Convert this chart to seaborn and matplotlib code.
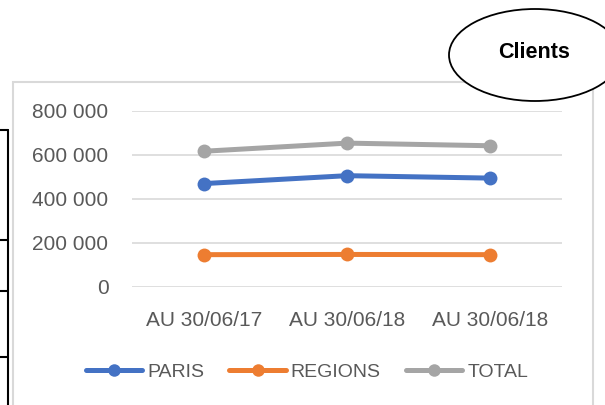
import pandas as pd
import matplotlib.pyplot as plt
import seaborn as sns
from matplotlib.patches import Ellipse, Rectangle
from matplotlib.lines import Line2D
from matplotlib.ticker import FuncFormatter

# Data
dates = ['AU 30/06/17', 'AU 30/06/18', 'AU 30/06/18']
paris = [470000, 506000, 495000]
regions = [147000, 148000, 147000]
total = [617000, 654000, 642000]
series = ['PARIS', 'REGIONS', 'TOTAL']
colors = ['#4472C4', '#ED7D31', '#A5A5A5']

# long format for seaborn
rows = []
for name, vals in zip(series, [paris, regions, total]):
    for i, v in enumerate(vals):
        rows.append({'pos': i, 'value': v, 'serie': name})
df = pd.DataFrame(rows)

sns.set_style('white')
plt.rcParams['font.family'] = ['Liberation Sans', 'DejaVu Sans']
text_col = '#595959'

W, H = 605, 405
fig = plt.figure(figsize=(6.05, 4.05), dpi=100)

def fx(px):
    return px / W

def fy(py):
    return 1 - py / H

# chart area border
fig.patches.append(Rectangle((fx(13), fy(420)), fx(593) - fx(13), fy(82) - fy(420),
                             transform=fig.transFigure, fill=False,
                             edgecolor='#D9D9D9', lw=1.5, zorder=1))

# table fragment on the left
fig.add_artist(Line2D([fx(8), fx(8)], [fy(130), fy(410)], color='black', lw=1.5,
                      transform=fig.transFigure))
for yy in [130, 240, 291, 357]:
    fig.add_artist(Line2D([0, fx(8)], [fy(yy), fy(yy)], color='black', lw=1.5,
                          transform=fig.transFigure))

ax = fig.add_axes([fx(132), fy(287), fx(562) - fx(132), fy(111) - fy(287)])
sns.lineplot(data=df, x='pos', y='value', hue='serie', palette=colors,
             marker='o', markersize=10, markeredgewidth=0, linewidth=3.6,
             legend=False, ax=ax)

ax.set_xlim(-0.5, 2.5)
ax.set_ylim(0, 800000)
ax.set_yticks([0, 200000, 400000, 600000, 800000])
ax.yaxis.set_major_formatter(FuncFormatter(lambda v, p: f'{int(v):,}'.replace(',', ' ')))
ax.set_xticks([0, 1, 2])
ax.set_xticklabels(dates)
ax.set_xlabel('')
ax.set_ylabel('')
ax.grid(axis='y', color='#D9D9D9', lw=1.2)
ax.set_axisbelow(True)
for s in ax.spines.values():
    s.set_visible(False)
ax.tick_params(axis='y', length=0, pad=17, labelsize=15, labelcolor=text_col)
ax.tick_params(axis='x', length=0, pad=17, labelsize=15, labelcolor=text_col)
ax.patch.set_alpha(0)

# legend
handles = [Line2D([], [], color=c, lw=3.6, marker='o', markersize=9, markeredgewidth=0)
           for c in colors]
fig.legend(handles, series, loc='center', bbox_to_anchor=(fx(307), fy(372)),
           ncol=3, frameon=False, fontsize=14, labelcolor=text_col,
           handlelength=2.9, handletextpad=0.25, columnspacing=1.3)

# "Clients" bubble
fig.patches.append(Ellipse((fx(535), fy(55)), fx(172), 92 / H, transform=fig.transFigure,
                           facecolor='white', edgecolor='black', lw=1.3, zorder=5))
fig.text(fx(534), fy(53), 'Clients', ha='center', va='center', fontsize=15.5,
         fontweight='bold', color='black', zorder=6)

plt.savefig('out.png', dpi=100)
